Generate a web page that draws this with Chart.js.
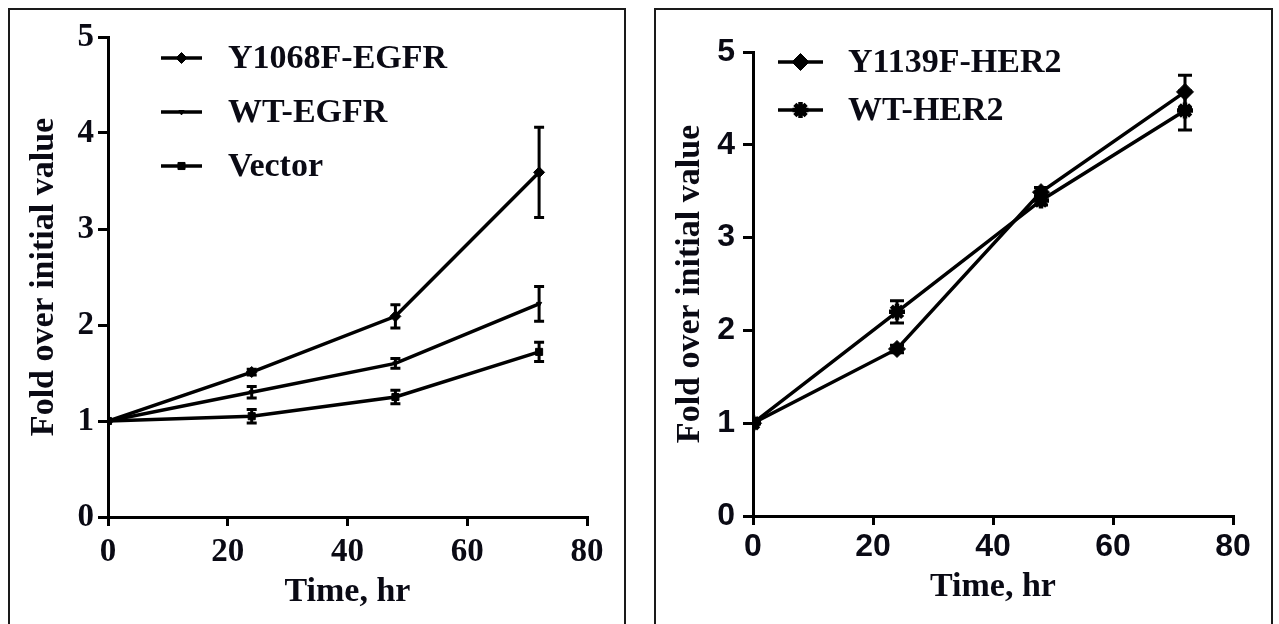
<!DOCTYPE html>
<html>
<head>
<meta charset="utf-8">
<script src="https://cdn.jsdelivr.net/npm/chart.js@4.4.0/dist/chart.umd.min.js"></script>
<style>
  html, body { margin: 0; padding: 0; background: #fff; width: 1279px; height: 624px; overflow: hidden; }
  .panel { position: absolute; top: 8px; height: 700px; box-sizing: border-box; border: 2px solid #1a1a1a; }
  .cv { position: absolute; top: 0; }
</style>
</head>
<body>
<div class="panel" style="left:8px;width:618px;"></div>
<div class="panel" style="left:654px;width:619px;"></div>
<div class="cv" style="left:0;width:640px;height:624px;"><canvas id="c1" width="640" height="624"></canvas></div>
<div class="cv" style="left:640px;width:639px;height:624px;"><canvas id="c2" width="639" height="624"></canvas></div>
<script>
// ---- data ----
const timeHr = [0, 24, 48, 72];
const xTicks = [0, 20, 40, 60, 80];
const yTicks = [0, 1, 2, 3, 4, 5];

const egfrLabels = ['Y1068F-EGFR', 'WT-EGFR', 'Vector'];
const y1068fEgfr = [1.0, 1.51, 2.09, 3.59];
const y1068fEgfrErr = [0, 0.03, 0.12, 0.47];
const wtEgfr = [1.0, 1.30, 1.60, 2.22];
const wtEgfrErr = [0, 0.06, 0.05, 0.18];
const vectorEgfr = [1.0, 1.05, 1.25, 1.72];
const vectorEgfrErr = [0, 0.07, 0.07, 0.10];

const her2Labels = ['Y1139F-HER2', 'WT-HER2'];
const y1139fHer2 = [1.0, 1.80, 3.49, 4.57];
const y1139fHer2Err = [0, 0.04, 0.05, 0.18];
const wtHer2 = [1.0, 2.20, 3.40, 4.37];
const wtHer2Err = [0, 0.12, 0.05, 0.21];

const xTitle = 'Time, hr';
const yTitle = 'Fold over initial value';

// ---- helpers ----
const pts = (ys) => timeHr.map((t, i) => ({x: t, y: ys[i]}));

const errorBarPlugin = {
  id: 'errorBars',
  afterDatasetsDraw(chart) {
    const ctx = chart.ctx;
    const xs = chart.scales.x, ys = chart.scales.y;
    const cap = chart.options.plugins.errorBars.cap;
    chart.data.datasets.forEach(ds => {
      if (!ds.errors) return;
      ctx.save();
      ctx.strokeStyle = '#000';
      ctx.lineWidth = chart.options.plugins.errorBars.width;
      ds.data.forEach((p, i) => {
        const e = ds.errors[i];
        if (!e) return;
        const px = xs.getPixelForValue(p.x);
        const top = ys.getPixelForValue(p.y + e);
        const bot = ys.getPixelForValue(p.y - e);
        ctx.beginPath();
        ctx.moveTo(px, top); ctx.lineTo(px, bot);
        ctx.moveTo(px - cap, top); ctx.lineTo(px + cap, top);
        ctx.moveTo(px - cap, bot); ctx.lineTo(px + cap, bot);
        ctx.stroke();
      });
      ctx.restore();
    });
  }
};

const legendPlugin = {
  id: 'inLegend',
  afterDraw(chart) {
    const o = chart.options.plugins.inLegend;
    const ctx = chart.ctx;
    ctx.save();
    chart.data.datasets.forEach((ds, i) => {
      const y = o.y + i * o.spacing;
      ctx.strokeStyle = '#000';
      ctx.lineWidth = 3.5;
      ctx.beginPath();
      ctx.moveTo(o.x, y); ctx.lineTo(o.x + o.lineLen, y);
      ctx.stroke();
      ctx.fillStyle = '#000';
      ctx.strokeStyle = '#000';
      ctx.lineWidth = ds.pointBorderWidth || 1;
      Chart.helpers.drawPoint(ctx, {
        pointStyle: ds.pointStyle, radius: ds.pointRadius, rotation: ds.pointRotation || 0, borderWidth: ds.pointBorderWidth || 1
      }, o.x + o.lineLen / 2, y);
      ctx.font = o.font;
      ctx.textBaseline = 'middle';
      ctx.textAlign = 'left';
      ctx.fillStyle = '#0a0a14';
      ctx.fillText(ds.label, o.textX, y + 1);
    });
    ctx.restore();
  }
};

function makeOptions(cfg) {
  return {
    responsive: false,
    animation: false,
    layout: { padding: { left: 0, top: cfg.top, right: cfg.right, bottom: 0 } },
    plugins: {
      legend: { display: false },
      tooltip: { enabled: false },
      errorBars: { cap: cfg.cap, width: 3 },
      inLegend: cfg.legend
    },
    scales: {
      x: {
        type: 'linear', min: 0, max: 80,
        afterBuildTicks: (s) => { s.ticks = xTicks.map(v => ({value: v})); },
        afterFit: (s) => { s.height = cfg.xHeight; },
        ticks: { color: '#0a0a14', font: cfg.tickFont, padding: cfg.xTickPad, maxRotation: 0, autoSkip: false },
        grid: { drawOnChartArea: false, drawTicks: true, tickLength: 9, color: '#000', lineWidth: 3 },
        border: { display: true, color: '#000', width: 3 },
        title: { display: true, text: xTitle, color: '#0a0a14', font: cfg.titleFont, padding: { top: 0, bottom: cfg.xTitlePad } }
      },
      y: {
        type: 'linear', min: 0, max: 5,
        afterBuildTicks: (s) => { s.ticks = yTicks.map(v => ({value: v})); },
        afterFit: (s) => { s.width = cfg.yWidth; },
        ticks: { color: '#0a0a14', font: cfg.tickFont, padding: cfg.yTickPad, autoSkip: false },
        grid: { drawOnChartArea: false, drawTicks: true, tickLength: 10, color: '#000', lineWidth: 3 },
        border: { display: true, color: '#000', width: 3 },
        title: { display: true, text: yTitle, color: '#0a0a14', font: cfg.titleFont, padding: { top: cfg.yTitlePad, bottom: 0 } }
      }
    }
  };
}

const serifBold = (sz) => ({ family: '"Liberation Serif", "Times New Roman", serif', weight: 'bold', size: sz });
const sansBold = (sz) => ({ family: '"Liberation Sans", Arial, sans-serif', weight: 'bold', size: sz });

const lineDs = (label, ys, errs, style, radius, extra) => Object.assign({
  label, data: pts(ys), errors: errs,
  borderColor: '#000', backgroundColor: '#000', borderWidth: 3.5,
  pointStyle: style, pointRadius: radius, pointBackgroundColor: '#000', pointBorderColor: '#000',
  pointBorderWidth: 1, tension: 0, fill: false
}, extra || {});

new Chart(document.getElementById('c1'), {
  type: 'line',
  data: {
    datasets: [
      lineDs(egfrLabels[0], y1068fEgfr, y1068fEgfrErr, 'rectRot', 5.5),
      lineDs(egfrLabels[1], wtEgfr, wtEgfrErr, 'triangle', 3, { pointRotation: 180 }),
      lineDs(egfrLabels[2], vectorEgfr, vectorEgfrErr, 'rect', 5)
    ]
  },
  options: makeOptions({
    top: 37, right: 53, xHeight: 107, yWidth: 108, cap: 5,
    tickFont: serifBold(33), titleFont: serifBold(34),
    xTickPad: 7, yTickPad: 4, xTitlePad: 11, yTitlePad: 24,
    legend: { x: 161, y: 58, spacing: 54, lineLen: 41, textX: 228, font: 'bold 34px "Liberation Serif", serif' }
  }),
  plugins: [errorBarPlugin, legendPlugin]
});

new Chart(document.getElementById('c2'), {
  type: 'line',
  data: {
    datasets: [
      lineDs(her2Labels[0], y1139fHer2, y1139fHer2Err, 'rectRot', 8.5),
      lineDs(her2Labels[1], wtHer2, wtHer2Err, 'star', 8, { pointBorderWidth: 4.5 })
    ]
  },
  options: makeOptions({
    top: 52, right: 46, xHeight: 108, yWidth: 113, cap: 7,
    tickFont: sansBold(32), titleFont: serifBold(34),
    xTickPad: 3, yTickPad: 8, xTitlePad: 16, yTitlePad: 30,
    legend: { x: 138, y: 62, spacing: 48, lineLen: 45, textX: 208, font: 'bold 34px "Liberation Serif", serif' }
  }),
  plugins: [errorBarPlugin, legendPlugin]
});
</script>
</body>
</html>
